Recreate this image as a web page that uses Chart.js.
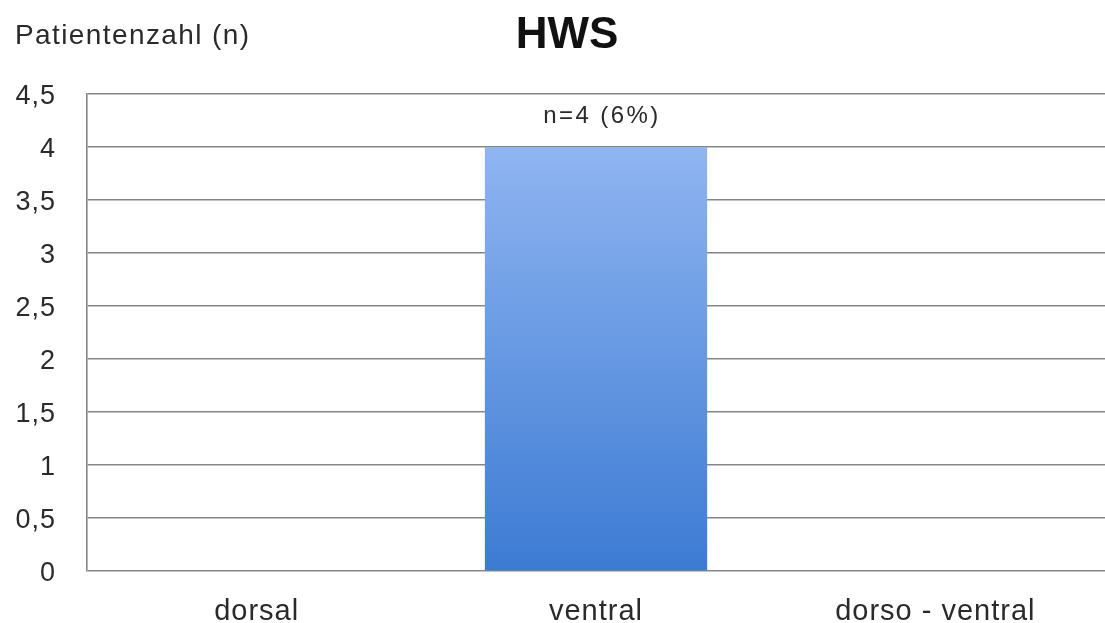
<!DOCTYPE html>
<html>
<head>
<meta charset="utf-8">
<script src="https://cdn.jsdelivr.net/npm/chart.js@4/dist/chart.umd.min.js"></script>
<style>
  html, body { margin: 0; padding: 0; background: #ffffff; }
  #wrap { width: 1105px; height: 623px; position: relative; }
</style>
</head>
<body>
<div id="wrap"><canvas id="c" width="1105" height="623"></canvas></div>
<script>
// Operative access at the cervical spine
const categories = ['dorsal', 'ventral', 'dorso - ventral'];
const patients = [0, 4, 0];
const barLabels = ['', 'n=4 (6%)', ''];
const chartTitle = 'HWS';
const yAxisTitle = 'Patientenzahl (n)';
const yMin = 0, yMax = 4.5, yStep = 0.5;

const FONT = '"Liberation Sans", Arial, Helvetica, sans-serif';
const SPACING = '1px';
const TEXT_COLOR = '#2a2a2a';

// Vertical blue gradient for each bar, from its top to its base
function barGradient(ctx) {
  const chart = ctx.chart;
  const area = chart.chartArea;
  if (!area) return '#5b8fe0';
  const el = ctx.element;
  const top = el && isFinite(el.y) ? el.y : area.top;
  const base = el && isFinite(el.base) ? el.base : area.bottom;
  const g = chart.ctx.createLinearGradient(0, top, 0, base);
  g.addColorStop(0, '#9abcf5');
  g.addColorStop(1, '#3c7bd3');
  return g;
}

// Slightly open letter spacing for all text on the canvas
const spacingPlugin = {
  id: 'spacing',
  beforeUpdate(chart) { chart.ctx.letterSpacing = SPACING; },
  beforeDraw(chart) { chart.ctx.letterSpacing = SPACING; }
};

// Headline, axis caption and value labels above the bars
const textPlugin = {
  id: 'texts',
  afterDatasetsDraw(chart) {
    const ctx = chart.ctx;
    ctx.save();
    ctx.letterSpacing = '0px';
    ctx.textBaseline = 'alphabetic';
    ctx.fillStyle = '#111';
    ctx.textAlign = 'center';
    ctx.font = 'bold 44px ' + FONT;
    ctx.fillText(chartTitle, 567, 48);
    ctx.letterSpacing = '1.4px';
    ctx.textAlign = 'left';
    ctx.font = '28px ' + FONT;
    ctx.fillStyle = TEXT_COLOR;
    ctx.fillText(yAxisTitle, 15, 44);
    ctx.letterSpacing = '2.4px';
    ctx.textAlign = 'center';
    ctx.font = '24px ' + FONT;
    const meta = chart.getDatasetMeta(0);
    meta.data.forEach((bar, i) => {
      if (!barLabels[i]) return;
      ctx.fillText(barLabels[i], bar.x + 6, bar.y - 24);
    });
    ctx.restore();
  }
};

new Chart(document.getElementById('c'), {
  type: 'bar',
  data: {
    labels: categories,
    datasets: [{
      data: patients,
      backgroundColor: barGradient,
      borderWidth: 0,
      categoryPercentage: 0.655,
      barPercentage: 1.0
    }]
  },
  options: {
    responsive: false,
    animation: false,
    layout: { padding: { top: 94, right: 0, bottom: 0, left: 0 } },
    plugins: {
      legend: { display: false },
      title: { display: false },
      tooltip: { enabled: false }
    },
    scales: {
      x: {
        grid: { display: false, drawTicks: false },
        border: { display: false },
        ticks: {
          color: TEXT_COLOR,
          font: { family: FONT, size: 29 },
          padding: 24
        },
        afterFit(scale) { scale.height = 52; }
      },
      y: {
        min: yMin,
        max: yMax,
        grid: { color: '#858585', lineWidth: 1.6, drawTicks: false },
        border: { display: true, color: '#858585', width: 1.6 },
        ticks: {
          stepSize: yStep,
          color: TEXT_COLOR,
          font: { family: FONT, size: 27 },
          padding: 31,
          labelOffset: 3,
          callback: (v) => String(v).replace('.', ',')
        },
        afterFit(scale) { scale.width = 87; }
      }
    }
  },
  plugins: [spacingPlugin, textPlugin]
});
</script>
</body>
</html>
